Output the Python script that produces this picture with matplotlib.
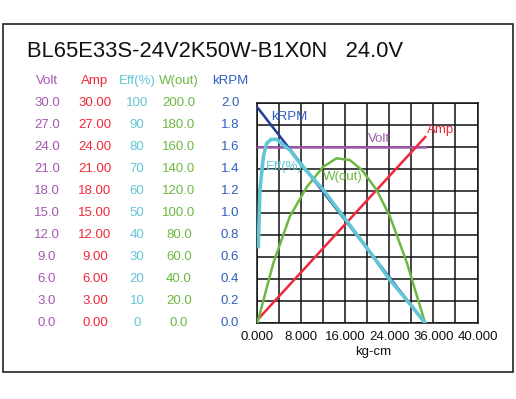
import matplotlib.pyplot as plt
from matplotlib.patches import Rectangle
from matplotlib.transforms import blended_transform_factory

plt.rcParams['font.family'] = ['Liberation Sans', 'DejaVu Sans']

title = "BL65E33S-24V2K50W-B1X0N   24.0V"

# scale columns on the left (top to bottom)
volt_ticks = ["30.0", "27.0", "24.0", "21.0", "18.0", "15.0", "12.0", "9.0", "6.0", "3.0", "0.0"]
amp_ticks = ["30.00", "27.00", "24.00", "21.00", "18.00", "15.00", "12.00", "9.00", "6.00", "3.00", "0.00"]
eff_ticks = ["100", "90", "80", "70", "60", "50", "40", "30", "20", "10", "0"]
wout_ticks = ["200.0", "180.0", "160.0", "140.0", "120.0", "100.0", "80.0", "60.0", "40.0", "20.0", "0.0"]
krpm_ticks = ["2.0", "1.8", "1.6", "1.4", "1.2", "1.0", "0.8", "0.6", "0.4", "0.2", "0.0"]
x_ticks = [0, 8, 16, 24, 32, 40]
x_labels = ["0.000", "8.000", "16.000", "24.000", "36.000", "40.000"]

# value per grid division for each series
volt_div, amp_div, eff_div, wout_div, krpm_div = 3.0, 3.0, 10.0, 20.0, 0.2

# curves, torque in kg-cm
line_torque = [0, 30.5]
krpm = [1.964, 0.0]
amp = [0.45, 25.4]
volt = [24.0, 24.0]

eff_torque = [0.18, 0.3, 0.48, 1.1, 1.7, 2.5, 3.5, 4.5, 5.9, 8.0, 12.0, 16.0, 20.0, 24.1, 28.0, 30.5]
eff = [34.8, 45.5, 60.6, 75.8, 81.8, 83.6, 83.6, 81.5, 78.8, 72.0, 60.6, 47.3, 34.0, 19.7, 8.0, 0.0]

w_torque = [0, 2.9, 5.9, 9.0, 12.0, 14.4, 16.8, 19.0, 21.7, 24.1, 27.2, 30.5]
wout = [0, 54.6, 97.0, 124.0, 142.4, 150.0, 148.4, 139.4, 121.0, 97.0, 54.6, 0]

c_volt = '#a458b0'
c_amp = '#f0283a'
c_eff = '#62c6d6'
c_wout = '#6cb840'
c_krpm_txt = '#2f5fc0'
c_krpm = '#1e3d96'

fig = plt.figure(figsize=(5.16, 3.99), dpi=100)
fig.patches.append(Rectangle((2.5 / 516, 1 - 372 / 399), 510.5 / 516, 348 / 399,
                             transform=fig.transFigure, fill=False, ec='#222222', lw=1.2))
fig.text(27 / 516, 1 - 57 / 399, title, fontsize=15.8, color='#111111', va='baseline', ha='left')

ax = fig.add_axes([257.3 / 516, 75.7 / 399, 220.2 / 516, 220 / 399])
ax.set_xlim(0, 40)
ax.set_ylim(0, 10)
ax.set_xticks(range(0, 41, 4))
ax.set_yticks(range(0, 11))
ax.tick_params(length=0, labelbottom=False, labelleft=False)
ax.grid(True, color='#111111', lw=1.1)
for s in ax.spines.values():
    s.set_color('#111111')
    s.set_linewidth(1.1)

ax.plot(line_torque, [v / volt_div for v in volt], color=c_volt, lw=1.8, zorder=3)
ax.plot(line_torque, [v / amp_div for v in amp], color=c_amp, lw=1.8, zorder=3)
ax.plot(w_torque, [v / wout_div for v in wout], color=c_wout, lw=1.8, zorder=3)
ax.plot(line_torque, [v / krpm_div for v in krpm], color=c_krpm, lw=1.8, zorder=3)
ax.plot(eff_torque, [v / eff_div for v in eff], color=c_eff, lw=2.6, zorder=4)

fs = 9.5
ax.text(5.76, 9.39, "kRPM", color=c_krpm_txt, fontsize=fs, ha='center', va='center', zorder=5)
ax.text(33.3, 8.79, "Amp", color=c_amp, fontsize=fs, ha='center', va='center', zorder=5)
ax.text(22.1, 8.38, "Volt", color=c_volt, fontsize=fs, ha='center', va='center', zorder=5)
ax.text(4.87, 7.1, "Eff(%)", color=c_eff, fontsize=fs, ha='center', va='center', zorder=5)
ax.text(15.6, 6.65, "W(out)", color=c_wout, fontsize=fs, ha='center', va='center', zorder=5)

# left scale columns
tr = blended_transform_factory(fig.transFigure, ax.transData)
columns = [
    (47, "Volt", volt_ticks, c_volt),
    (95, "Amp", amp_ticks, c_amp),
    (137, "Eff(%)", eff_ticks, c_eff),
    (179, "W(out)", wout_ticks, c_wout),
    (230, "kRPM", krpm_ticks, c_krpm_txt),
]
for px, head, ticks, col in columns:
    fig.text(px / 516, 1 - 81 / 399, head, color=col, fontsize=fs, ha='center', va='center')
    for i, lab in enumerate(ticks):
        ax.text(px / 516, 10 - i, lab, color=col, fontsize=fs, ha='center', va='center',
                transform=tr, clip_on=False)

# x tick labels
for xv, lab in zip(x_ticks, x_labels):
    ax.text(xv, -0.6, lab, color='#111111', fontsize=fs, ha='center', va='center', clip_on=False)
ax.text(21, -1.3, "kg-cm", color='#111111', fontsize=fs, ha='center', va='center', clip_on=False)

fig.savefig('out.png', dpi=100)
